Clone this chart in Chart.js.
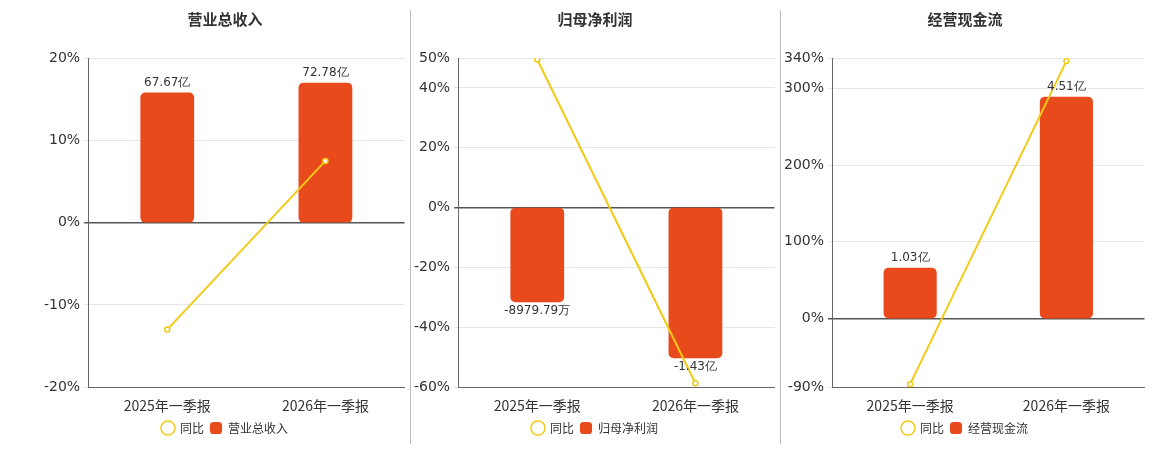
<!DOCTYPE html>
<html><head><meta charset="utf-8">
<script src="https://cdn.jsdelivr.net/npm/chart.js@4"></script>
<style>
body{margin:0;background:#fff;width:1160px;height:450px;position:relative;font-family:"Noto Sans CJK SC","DejaVu Sans",sans-serif}
.p{position:absolute;top:0;height:450px;width:370px}
.sep{position:absolute;top:10px;height:434px;width:1px;background:#bbb}
</style></head><body>
<div class="p" style="left:40px"><canvas id="c0" width="370" height="446"></canvas></div>
<div class="sep" style="left:410px"></div>
<div class="p" style="left:410px"><canvas id="c1" width="370" height="446"></canvas></div>
<div class="sep" style="left:780px"></div>
<div class="p" style="left:780px"><canvas id="c2" width="370" height="446"></canvas></div>
<script>
const categories = ['2025年一季报','2026年一季报'];
const titles = ['营业总收入','归母净利润','经营现金流'];
// values in 亿
const revenue = [67.67, 72.78];
const revenueYoY = [-13.0, 7.5];
const netProfit = [-0.897979, -1.43];
const netProfitYoY = [49.5, -58.7];
const cashFlow = [1.03, 4.51];
const cashFlowYoY = [-86.0, 336.0];
const ticks0 = [-20,-10,0,10,20];
const ticks1 = [-60,-40,-20,0,20,40,50];
const ticks2 = [-90,0,100,200,300,340];

const panels = [
  {bars:revenue, line:revenueYoY, ticks:ticks0, y1:[-85.6,85.6]},
  {bars:netProfit, line:netProfitYoY, ticks:ticks1, y1:[-1.704,1.42]},
  {bars:cashFlow, line:cashFlowYoY, ticks:ticks2, y1:[-1.40,5.30]},
];
function fmt(v){ return Math.abs(v)<1 ? (v*10000).toFixed(2)+'万' : v.toFixed(2)+'亿'; }

const labelPlugin = {
  id:'barLabels',
  afterDatasetsDraw(chart){
    const ctx=chart.ctx, meta=chart.getDatasetMeta(0), data=chart.data.datasets[0].data;
    ctx.save(); ctx.font='12px "DejaVu Sans"'; ctx.fillStyle='#333'; ctx.textAlign='center';
    meta.data.forEach((el,i)=>{
      const v=data[i];
      if(v>=0){ctx.textBaseline='bottom'; ctx.fillText(fmt(v), el.x, el.y-4);}
      else {ctx.textBaseline='top'; ctx.fillText(fmt(v), el.x, el.y+3);}
    });
    ctx.restore();
  }
};

panels.forEach((p,k)=>{
  new Chart(document.getElementById('c'+k),{
    data:{labels:categories, datasets:[
      {type:'bar', label:titles[k], data:p.bars, yAxisID:'y1', backgroundColor:'#E84A1C', borderRadius:5, borderSkipped:false, barPercentage:0.34, categoryPercentage:1, order:2, pointStyle:'rectRounded'},
      {type:'line', label:'同比', data:p.line, yAxisID:'y', borderColor:'#F2CA15', backgroundColor:'#fff', borderWidth:2, pointRadius:2.5, pointBorderWidth:1.5, pointBackgroundColor:'#fff', order:1, pointStyle:'circle'}
    ]},
    options:{
      responsive:false, animation:false, devicePixelRatio:1,
      layout:{padding:{top:0,right:0,left:0,bottom:2}},
      plugins:{
        title:{display:true, text:titles[k], color:'#333', font:{size:15,weight:'bold',family:'"Noto Sans CJK SC"'}, padding:{top:10,bottom:30}},
        legend:{position:'bottom', labels:{usePointStyle:true, boxWidth:22, boxHeight:10, color:'#333', font:{size:12,family:'"Noto Sans CJK SC"'}, padding:6}},
        tooltip:{enabled:false}
      },
      scales:{
        x:{grid:{display:false}, border:{color:'#666'}, ticks:{color:'#333', font:{size:14,family:'"Noto Sans CJK SC"'}, padding:2}},
        y:{min:p.ticks[0], max:p.ticks[p.ticks.length-1],
           afterBuildTicks(ax){ax.ticks=p.ticks.map(v=>({value:v}));},
           ticks:{callback:v=>v+'%', color:'#333', font:{size:14,family:'"DejaVu Sans"'}, padding:4},
           grid:{color:c=>c.tick&&c.tick.value===0?'#555':'#e6e6e6', lineWidth:c=>c.tick&&c.tick.value===0?1.5:1, drawTicks:true, tickLength:4},
           border:{color:'#666'}},
        y1:{display:false, min:p.y1[0], max:p.y1[1]}
      }
    },
    plugins:[labelPlugin]
  });
});
</script>
</body></html>
